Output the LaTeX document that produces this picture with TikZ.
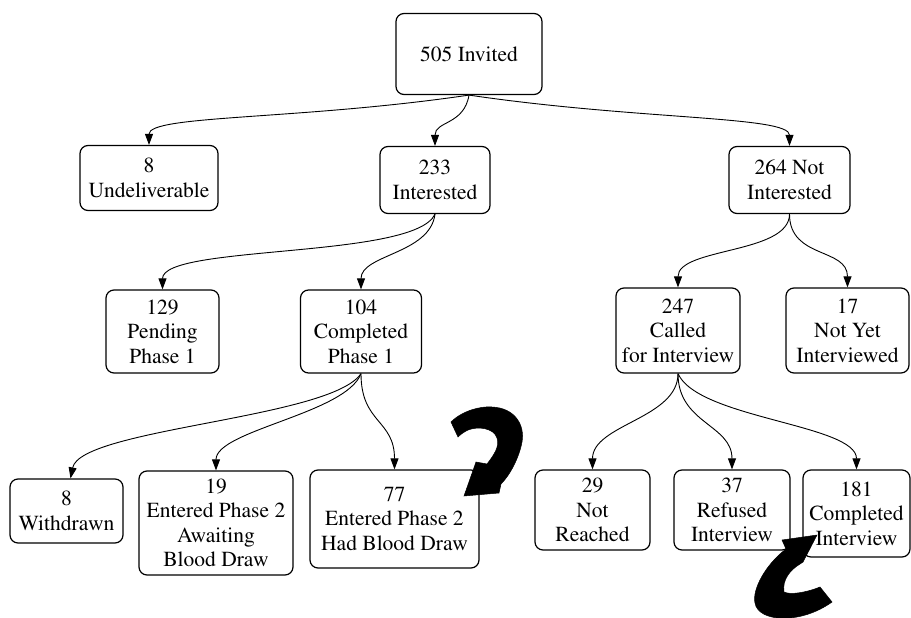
\documentclass[tikz,border=0pt]{standalone}
\usepackage[T1]{fontenc}
\renewcommand{\rmdefault}{ptm}
\usetikzlibrary{arrows.meta}
\begin{document}
\begin{tikzpicture}[x=1pt,y=-1pt,
  box/.style={draw, rounded corners=8pt, line width=1.2pt, align=center, inner sep=0pt,
    font=\fontsize{21.5}{24.5}\selectfont},
  link/.style={line width=0.9pt, -{Triangle[length=11pt,width=8pt]}},
  bigarrow/.style={fill=black, draw=black, line width=0.5pt},
]
\useasboundingbox (0,0) rectangle (911,618);
% nodes
\node[box, minimum width=146pt, minimum height=81pt] (inv) at (469,54) {505 Invited};
\node[box, minimum width=138pt, minimum height=65pt] (und) at (149,178) {8\\Undeliverable};
\node[box, minimum width=110pt, minimum height=67pt] (int) at (435,180) {233\\Interested};
\node[box, minimum width=121pt, minimum height=67pt] (nint) at (789.5,180) {264 Not\\Interested};
\node[box, minimum width=113pt, minimum height=83pt] (pend) at (162.5,331.5) {129\\Pending\\Phase 1};
\node[box, minimum width=121pt, minimum height=83pt] (comp) at (361,331.5) {104\\Completed\\Phase 1};
\node[box, minimum width=124pt, minimum height=85pt] (call) at (678,330.5) {247\\Called\\for Interview};
\node[box, minimum width=123pt, minimum height=85pt] (nyet) at (847.5,330.5) {17\\Not Yet\\Interviewed};
\node[box, minimum width=113pt, minimum height=64pt] (wd) at (66.5,511) {8\\Withdrawn};
\node[box, minimum width=154pt, minimum height=104pt] (await) at (216,523) {19\\Entered Phase 2\\Awaiting\\Blood Draw};
\node[box, minimum width=169pt, minimum height=98pt] (had) at (394.5,519) {77\\Entered Phase 2\\Had Blood Draw};
\node[box, minimum width=115pt, minimum height=80pt] (nr) at (592.5,510) {29\\Not\\Reached};
\node[box, minimum width=116pt, minimum height=80pt] (ref) at (732,510) {37\\Refused\\Interview};
\node[box, minimum width=107pt, minimum height=87pt] (ci) at (856.5,513.5) {181\\Completed\\Interview};
% connectors
\draw[link] (inv.south) .. controls +(-170,25) and +(0,-30) .. (und.north);
\draw[link] (inv.south) .. controls +(-5,30) and +(0,-25) .. (int.north);
\draw[link] (inv.south) .. controls +(170,25) and +(0,-30) .. (nint.north);
\draw[link] (int.south) .. controls +(-20,45) and +(0,-45) .. (pend.north);
\draw[link] (int.south) .. controls +(-5,40) and +(0,-35) .. (comp.north);
\draw[link] (nint.south) .. controls +(0,40) and +(0,-40) .. (call.north);
\draw[link] (nint.south) .. controls +(0,45) and +(0,-40) .. (nyet.north);
\draw[link] (comp.south) .. controls +(-30,45) and +(10,-50) .. ([xshift=4pt]wd.north);
\draw[link] (comp.south) .. controls +(-15,40) and +(0,-40) .. (await.north);
\draw[link] (comp.south) .. controls +(0,50) and +(0,-50) .. (had.north);
\draw[link] (call.south) .. controls +(0,45) and +(0,-45) .. (nr.north);
\draw[link] (call.south) .. controls +(0,50) and +(0,-45) .. (ref.north);
\draw[link] (call.south) .. controls +(20,45) and +(0,-45) .. (ci.north);
% thick hand-drawn arrows
\fill[bigarrow] (451,422) .. controls (462,411) and (480,406) .. (492,407)
  .. controls (515,408) and (525,425) .. (522,442)
  .. controls (519,458) and (510,475) .. (501,484) -- (499,493) -- (464,496) -- (476,462)
  -- (487,464) .. controls (494,455) and (500,446) .. (497,438)
  .. controls (494,428) and (478,426) .. (468,430)
  .. controls (464,432) and (461,434) .. (458,437) -- cycle;
\fill[bigarrow] (817,535) -- (782,540) -- (786,549)
  .. controls (765,565) and (752,590) .. (755,603)
  .. controls (758,622) and (800,625) .. (832,602) -- (820,587)
  .. controls (805,593) and (790,595) .. (784,592)
  .. controls (782,580) and (790,570) .. (800,564) -- (803,562) -- cycle;
\end{tikzpicture}
\end{document}
